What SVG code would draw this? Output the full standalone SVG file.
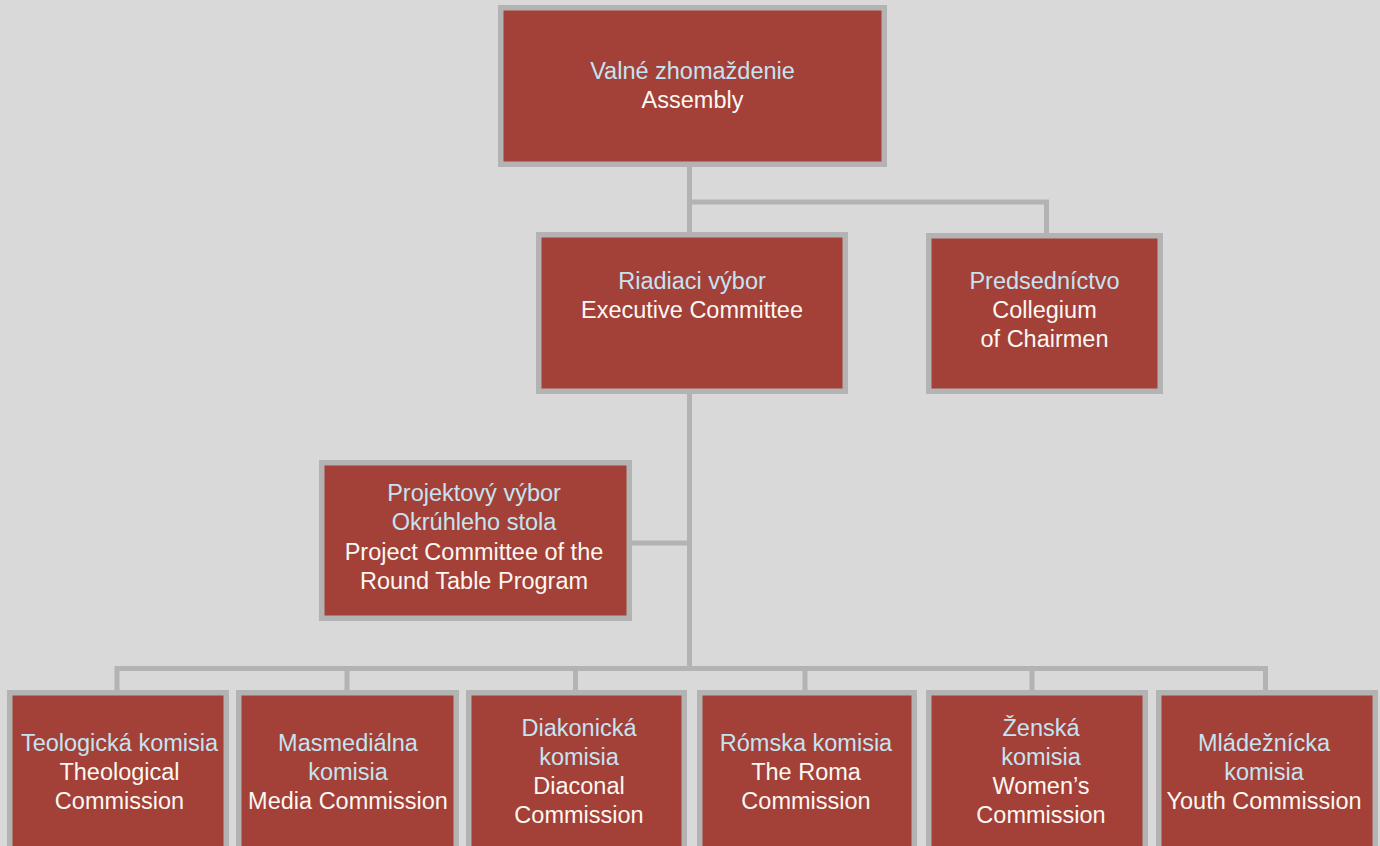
<svg xmlns="http://www.w3.org/2000/svg" width="1380" height="846" viewBox="0 0 1380 846">
<style>
.box{fill:#a34037;stroke:#b3b3b3;stroke-width:5.5}
.con{fill:none;stroke:#b3b3b3;stroke-width:5}
text{font-family:"Liberation Sans",Arial,sans-serif;font-size:23.5px;text-anchor:middle}
.sk{fill:#c6e3f2}
.en{fill:#fbf7f2}
</style>
<rect x="0" y="0" width="1380" height="846" fill="#d9d9d9"/>
<g id="connectors">
<path class="con" d="M689.5 167 V668.5 M689.5 202 H1046.5 V233 M632 543 H689.5 M117 668.5 H1265.5 M117 666 V691 M347 666 V691 M575.5 666 V691 M805 666 V691 M1032 666 V691 M1265.5 666 V691"/>
</g>
<g id="assembly">
<rect class="box" x="500.75" y="7.75" width="383.5" height="156.5"/>
<text x="692.5" y="79" class="sk">Valné zhomaždenie</text>
<text x="692.5" y="108" class="en">Assembly</text>
</g>
<g id="executive">
<rect class="box" x="538.75" y="234.75" width="306.5" height="156.5"/>
<text x="692" y="289" class="sk">Riadiaci výbor</text>
<text x="692" y="318" class="en">Executive Committee</text>
</g>
<g id="collegium">
<rect class="box" x="928.75" y="235.75" width="231.5" height="155.5"/>
<text x="1044.5" y="288.5" class="sk">Predsedníctvo</text>
<text x="1044.5" y="317.5" class="en">Collegium</text>
<text x="1044.5" y="346.5" class="en">of Chairmen</text>
</g>
<g id="project">
<rect class="box" x="321.75" y="462.75" width="307.5" height="155.5"/>
<text x="474" y="500.5" class="sk">Projektový výbor</text>
<text x="474" y="530" class="sk">Okrúhleho stola</text>
<text x="474" y="559.5" class="en">Project Committee of the</text>
<text x="474" y="588.5" class="en">Round Table Program</text>
</g>
<g id="theological">
<rect class="box" x="9.75" y="692.75" width="216.5" height="190"/>
<text x="119.5" y="751" class="sk">Teologická komisia</text>
<text x="119.5" y="780" class="en">Theological</text>
<text x="119.5" y="808.5" class="en">Commission</text>
</g>
<g id="media">
<rect class="box" x="238.75" y="692.75" width="217.5" height="190"/>
<text x="348" y="751" class="sk">Masmediálna</text>
<text x="348" y="780" class="sk">komisia</text>
<text x="348" y="808.5" class="en">Media Commission</text>
</g>
<g id="diaconal">
<rect class="box" x="468.75" y="692.75" width="215.5" height="190"/>
<text x="579" y="736" class="sk">Diakonická</text>
<text x="579" y="765" class="sk">komisia</text>
<text x="579" y="794" class="en">Diaconal</text>
<text x="579" y="823" class="en">Commission</text>
</g>
<g id="roma">
<rect class="box" x="699.75" y="692.75" width="214.5" height="190"/>
<text x="806" y="751" class="sk">Rómska komisia</text>
<text x="806" y="780" class="en">The Roma</text>
<text x="806" y="808.5" class="en">Commission</text>
</g>
<g id="women">
<rect class="box" x="928.75" y="692.75" width="216.5" height="190"/>
<text x="1041" y="736" class="sk">Ženská</text>
<text x="1041" y="765" class="sk">komisia</text>
<text x="1041" y="794" class="en">Women’s</text>
<text x="1041" y="823" class="en">Commission</text>
</g>
<g id="youth">
<rect class="box" x="1158.75" y="692.75" width="216.5" height="190"/>
<text x="1264" y="751" class="sk">Mládežnícka</text>
<text x="1264" y="780" class="sk">komisia</text>
<text x="1264" y="808.5" class="en">Youth Commission</text>
</g>
</svg>
